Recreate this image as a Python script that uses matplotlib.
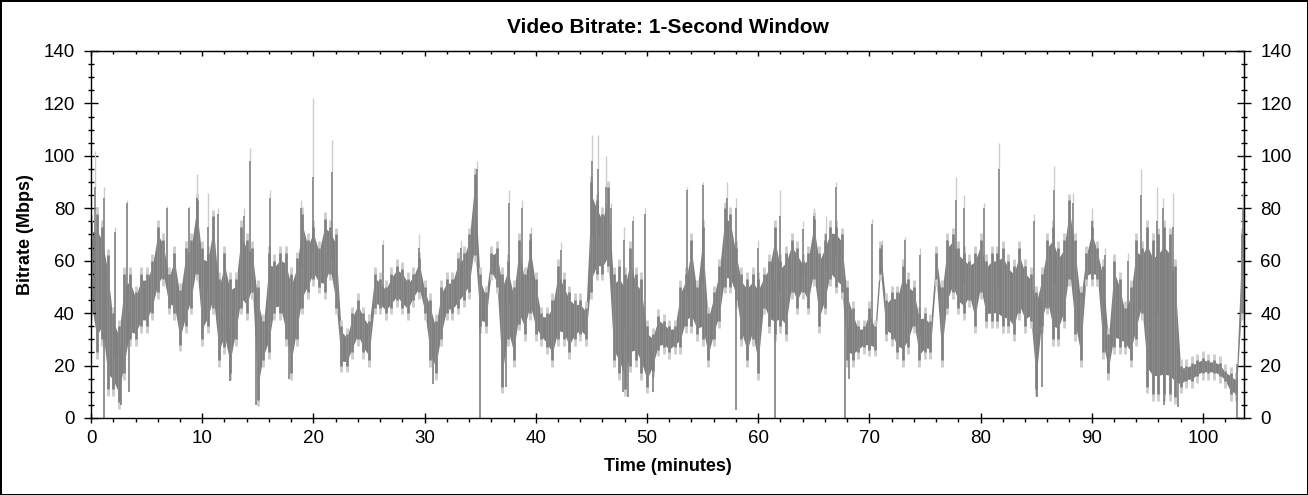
import numpy as np
import matplotlib.pyplot as plt

plt.rcParams['font.family'] = ['Liberation Sans', 'DejaVu Sans']

# Video bitrate, one (low, high) pair of the dense trace per half minute
step_min = 0.5
band_low = [
    40, 25, 30, 11, 11, 6, 17, 30, 30, 35, 35, 40, 48, 53, 42, 40, 28, 35, 42, 55,
    30, 35, 42, 22, 27, 17, 30, 42, 40, 48, 7, 22, 25, 40, 40, 30, 17, 30, 42, 48,
    53, 50, 48, 55, 42, 20, 20, 25, 30, 25, 22, 42, 42, 40, 42, 45, 42, 40, 45, 48,
    40, 22, 17, 30, 40, 40, 42, 45, 48, 62, 35, 35, 55, 50, 12, 30, 22, 36, 32, 40,
    32, 30, 27, 22, 30, 30, 25, 30, 32, 30, 48, 55, 55, 58, 22, 17, 11, 20, 22, 17,
    12, 18, 26, 27, 25, 27, 27, 35, 35, 32, 30, 22, 30, 37, 50, 50, 45, 30, 22, 30,
    17, 42, 35, 32, 35, 32, 48, 42, 48, 42, 53, 35, 42, 53, 50, 48, 22, 22, 25, 27,
    26, 26, 55, 32, 30, 25, 22, 27, 35, 22, 25, 25, 53, 22, 42, 48, 42, 40, 45, 35,
    48, 37, 37, 37, 35, 35, 32, 40, 35, 37, 11, 35, 42, 30, 30, 37, 53, 32, 22, 53,
    53, 53, 25, 17, 27, 27, 27, 22, 30, 40, 12, 9, 9, 9, 9, 8, 12, 14, 14, 16,
    17, 17, 17, 16, 14, 9, 9, 40,
]
band_high = [
    75, 78, 73, 62, 40, 35, 55, 55, 48, 55, 55, 60, 73, 68, 55, 63, 49, 65, 68, 83,
    65, 63, 77, 53, 63, 53, 53, 73, 68, 65, 50, 37, 63, 60, 63, 63, 55, 61, 78, 68,
    73, 65, 76, 73, 70, 35, 32, 40, 45, 40, 37, 55, 53, 50, 55, 58, 57, 53, 55, 61,
    50, 45, 37, 50, 53, 53, 61, 63, 70, 93, 55, 48, 63, 65, 55, 60, 50, 68, 55, 68,
    53, 40, 40, 45, 58, 53, 48, 45, 45, 42, 90, 83, 78, 88, 55, 58, 55, 65, 55, 53,
    35, 32, 39, 37, 35, 35, 50, 55, 68, 50, 73, 40, 48, 58, 80, 78, 65, 55, 53, 55,
    53, 55, 60, 73, 60, 63, 68, 65, 60, 63, 76, 63, 68, 73, 73, 70, 50, 42, 35, 35,
    42, 35, 65, 45, 48, 48, 58, 53, 50, 40, 40, 37, 63, 50, 68, 70, 65, 63, 60, 63,
    68, 60, 63, 63, 65, 60, 58, 65, 58, 55, 48, 55, 68, 73, 65, 68, 83, 68, 48, 63,
    73, 65, 58, 32, 60, 53, 42, 50, 68, 65, 73, 68, 70, 73, 70, 58, 20, 20, 21, 22,
    23, 22, 22, 21, 18, 17, 15, 70,
]

# Single-second peaks above the trace: time, dark tip, faint tip
peak_time = [0.4, 1.2, 2.2, 3.2, 6.8, 8.8, 9.5, 10.5, 11.4, 13.8, 14.3, 16.1, 18.9,
             20.0, 21.7, 26.3, 29.5, 33.3, 34.7, 37.6, 38.8, 39.6, 42.3, 45.1, 45.6,
             46.3, 46.8, 47.9, 48.7, 49.8, 53.6, 55.0, 57.2, 58.0, 60.0, 62.0, 64.0,
             65.0, 66.1, 67.0, 70.2, 71.1, 73.2, 74.6, 77.8, 78.5, 80.3, 81.7, 84.8,
             86.6, 88.3, 90.0, 91.2, 93.3, 94.4, 95.9, 96.4, 97.3, 103.6]
peak_dark = [88, 84, 71, 82, 80, 80, 84, 73, 78, 77, 98, 84, 80,
             92, 94, 66, 65, 65, 95, 82, 80, 70, 64, 98, 95,
             88, 80, 68, 75, 78, 87, 89, 84, 80, 65, 77, 72,
             77, 70, 88, 74, 66, 68, 62, 83, 80, 80, 95, 75,
             87, 82, 75, 62, 60, 85, 75, 80, 73, 80]
peak_light = [102, 88, 73, 83, 81, 81, 93, 86, 80, 80, 103, 87, 83,
              122, 106, 68, 70, 68, 98, 87, 83, 73, 67, 108, 108,
              100, 82, 73, 77, 80, 88, 90, 90, 84, 68, 87, 75,
              80, 77, 90, 76, 68, 69, 65, 92, 85, 82, 105, 78,
              96, 86, 80, 65, 63, 95, 88, 84, 86, 87]

# Single-second drops below the trace: time, bottom value
dip_time = [1.2, 2.7, 3.4, 12.5, 14.8, 17.8, 30.8, 35.0, 37.3, 47.8, 48.3, 50.5,
            58.0, 61.5, 67.8, 68.2, 85.1, 85.5, 91.5, 96.5, 97.8, 103.1]
dip_value = [0, 5, 10, 14, 5, 15, 13, 0, 12, 10, 8, 10,
             3, 0, 0, 15, 8, 12, 17, 5, 4, 0]

x_ticks = [0, 10, 20, 30, 40, 50, 60, 70, 80, 90, 100]
y_ticks = [0, 20, 40, 60, 80, 100, 120, 140]

dark = '#808080'
light = '#cccccc'

times = np.arange(len(band_low)) * step_min
low = np.array(band_low, dtype=float)
high = np.array(band_high, dtype=float)
mid = (low + high) / 2
spread = high - low

fig = plt.figure(figsize=(13.08, 4.95), dpi=100, edgecolor='black', linewidth=2)
ax = fig.add_axes([0.0696, 0.1556, 0.8815, 0.7414])

# faint outer strokes, then the full range at each sample, then the dense core
ax.vlines(times, np.clip(low - 2.5, 0, None), high + 2.5, color=light, lw=2.0)
ax.vlines(times, low, high, color=dark, lw=1.9)
ax.fill_between(times, low + 0.12 * spread, high - 0.12 * spread, color=dark, lw=0)

# isolated peaks and drops
peak_base = np.interp(peak_time, times, mid)
ax.vlines(peak_time, peak_dark, peak_light, color=light, lw=1.0)
ax.vlines(peak_time, peak_base, peak_dark, color=dark, lw=1.2)
dip_base = np.interp(dip_time, times, mid)
ax.vlines(dip_time, dip_value, dip_base, color=dark, lw=1.2)

ax.set_xlim(0, 103.7)
ax.set_ylim(0, 140)
ax.set_xticks(x_ticks)
ax.set_yticks(y_ticks)
ax.set_xticks(np.arange(0, 104, 2), minor=True)
ax.set_yticks(np.arange(0, 141, 5), minor=True)

ax.tick_params(axis='x', which='major', direction='inout', length=7.2, width=1,
               labelsize=13.5, pad=5, top=False)
ax.tick_params(axis='x', which='minor', direction='out', length=2.9, width=1, top=False)
ax.tick_params(axis='y', which='major', direction='inout', length=9.4, width=1,
               labelsize=13.5, pad=7, right=False)
ax.tick_params(axis='y', which='minor', direction='inout', length=4.3, width=1, right=False)

# top axis: inward ticks only
top = ax.secondary_xaxis('top')
top.set_xticks(x_ticks)
top.set_xticks(np.arange(0, 104, 2), minor=True)
top.tick_params(which='major', direction='in', length=3.6, width=1, labeltop=False)
top.tick_params(which='minor', direction='in', length=2.2, width=1)

# right axis repeats the bitrate scale
right = ax.secondary_yaxis('right')
right.set_yticks(y_ticks)
right.set_yticks(np.arange(0, 141, 5), minor=True)
right.tick_params(which='major', direction='inout', length=9.4, width=1,
                  labelsize=13.5, pad=7)
right.tick_params(which='minor', direction='inout', length=4.3, width=1)

for spine in ax.spines.values():
    spine.set_linewidth(1)

ax.set_title('Video Bitrate: 1-Second Window', fontsize=15, fontweight='bold', pad=13)
ax.set_xlabel('Time (minutes)', fontsize=13, fontweight='bold', labelpad=8)
ax.set_ylabel('Bitrate (Mbps)', fontsize=13, fontweight='bold', labelpad=7)

fig.savefig('out.png', dpi=100)
